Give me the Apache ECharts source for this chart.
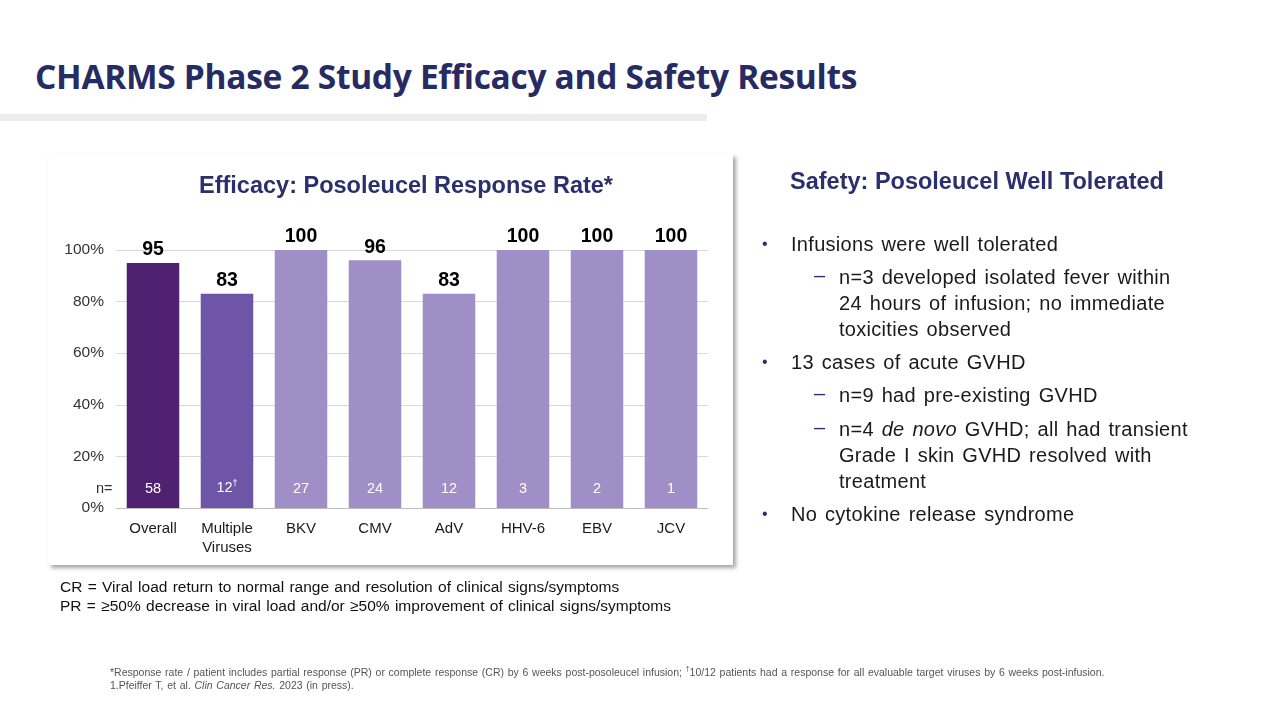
<!DOCTYPE html>
<html>
<head>
<meta charset="utf-8">
<script src="https://cdn.jsdelivr.net/npm/echarts@6/dist/echarts.min.js"></script>
<style>
  html, body { margin:0; padding:0; background:#fff; }
  body { width:1280px; height:720px; position:relative; overflow:hidden; font-family:"Liberation Sans", Arial, sans-serif; }
  #title { position:absolute; left:35px; top:53px; font-family:"Open Sans", sans-serif; font-weight:700; font-size:33.5px; color:#272b63; white-space:nowrap; letter-spacing:-0.3px; }
  #rule { position:absolute; left:0; top:114px; width:707px; height:7px; background:#ececec; }
  #card { position:absolute; left:48px; top:154px; width:685px; height:411px; background:#fff; box-shadow:3px 3px 4px rgba(0,0,0,0.35); }
  #chart { position:absolute; left:0; top:0; width:1280px; height:720px; }
  #safetyTitle { position:absolute; left:790px; top:168px; font-weight:700; font-size:23.5px; color:#2b2f6b; white-space:nowrap; }
  .b { position:absolute; font-size:20px; color:#1a1a1a; white-space:nowrap; line-height:26px; letter-spacing:0.3px; word-spacing:2px; }
  .dot { position:absolute; font-size:16px; color:#2b2f6b; }
  .dash { position:absolute; font-size:20px; color:#2b2f6b; }
  .defs { position:absolute; left:60px; font-size:15.5px; color:#111; white-space:nowrap; word-spacing:1px; }
  .fn { position:absolute; left:110px; font-size:10.5px; color:#555; white-space:nowrap; word-spacing:0.8px; }
</style>
</head>
<body>
<div id="title">CHARMS Phase 2 Study Efficacy and Safety Results</div>
<div id="rule"></div>
<div id="card"></div>
<div id="chart"></div>

<div id="safetyTitle">Safety: Posoleucel Well Tolerated</div>
<div class="dot" style="left:762px;top:235px;">•</div>
<div class="b" style="left:791px;top:231px;">Infusions were well tolerated</div>
<div class="dash" style="left:814px;top:264px;">–</div>
<div class="b" style="left:839px;top:264px;">n=3 developed isolated fever within<br>24 hours of infusion; no immediate<br>toxicities observed</div>
<div class="dot" style="left:762px;top:353px;">•</div>
<div class="b" style="left:791px;top:349px;">13 cases of acute GVHD</div>
<div class="dash" style="left:814px;top:382px;">–</div>
<div class="b" style="left:839px;top:382px;">n=9 had pre-existing GVHD</div>
<div class="dash" style="left:814px;top:416px;">–</div>
<div class="b" style="left:839px;top:416px;">n=4 <i>de novo</i> GVHD; all had transient<br>Grade I skin GVHD resolved with<br>treatment</div>
<div class="dot" style="left:762px;top:505px;">•</div>
<div class="b" style="left:791px;top:501px;">No cytokine release syndrome</div>

<div class="defs" style="top:578px;">CR = Viral load return to normal range and resolution of clinical signs/symptoms</div>
<div class="defs" style="top:597px;">PR = ≥50% decrease in viral load and/or ≥50% improvement of clinical signs/symptoms</div>

<div class="fn" style="top:665px;">*Response rate / patient includes partial response (PR) or complete response (CR) by 6 weeks post-posoleucel infusion; <sup style="font-size:7px">†</sup>10/12 patients had a response for all evaluable target viruses by 6 weeks post-infusion.</div>
<div class="fn" style="top:679px;">1.Pfeiffer T, et al. <i>Clin Cancer Res.</i> 2023 (in press).</div>

<script>
const categories = ['Overall', 'Multiple\nViruses', 'BKV', 'CMV', 'AdV', 'HHV-6', 'EBV', 'JCV'];
const responseRates = [95, 83, 100, 96, 83, 100, 100, 100];
const nLabels = ['58', '12{sup|†}', '27', '24', '12', '3', '2', '1'];
const barColors = ['#4f2170', '#6f55a8', '#a08fc6', '#a08fc6', '#a08fc6', '#a08fc6', '#a08fc6', '#a08fc6'];
const yTicks = [0, 20, 40, 60, 80, 100];

const chart = echarts.init(document.getElementById('chart'), null, { renderer: 'canvas' });
const font = '"Liberation Sans", Arial, sans-serif';

chart.setOption({
  animation: false,
  backgroundColor: 'transparent',
  title: {
    text: 'Efficacy: Posoleucel Response Rate*',
    left: 401, top: 170, textAlign: 'center',
    textStyle: { fontFamily: font, fontWeight: 'bold', fontSize: 23.5, color: '#2b2f6b' }
  },
  grid: { left: 116, right: 572, top: 250, bottom: 212, containLabel: false },
  xAxis: {
    type: 'category',
    data: categories,
    axisLine: { show: true, lineStyle: { color: '#bfbfbf', width: 1 } },
    axisTick: { show: false },
    axisLabel: { fontFamily: font, fontSize: 15, color: '#1a1a1a', margin: 11, lineHeight: 19, interval: 0 }
  },
  yAxis: {
    type: 'value',
    min: yTicks[0], max: yTicks[yTicks.length - 1], interval: 20,
    axisLine: { show: false },
    axisTick: { show: false },
    splitLine: { lineStyle: { color: '#d9d9d9', width: 1 } },
    axisLabel: { fontFamily: font, fontSize: 15.5, color: '#333', margin: 12, formatter: '{value}%' }
  },
  graphic: [
    { type: 'text', left: 96, top: 481, style: { text: 'n=', fontFamily: font, fontSize: 14.5, fill: '#333' } }
  ],
  series: [
    {
      type: 'bar',
      data: responseRates.map((v, i) => ({ value: v, itemStyle: { color: barColors[i] } })),
      barWidth: '71%',
      label: {
        show: true, position: 'insideBottom', distance: 12,
        fontFamily: font, fontSize: 14.5, color: '#ffffff',
        formatter: p => nLabels[p.dataIndex],
        rich: { sup: { fontSize: 9, color: '#ffffff', verticalAlign: 'top', padding: [0, 0, 8, 0] } }
      },
      z: 2
    },
    {
      type: 'bar',
      data: responseRates,
      barWidth: '71%',
      barGap: '-100%',
      itemStyle: { color: 'rgba(0,0,0,0)' },
      label: {
        show: true, position: 'top', distance: 3,
        fontFamily: font, fontSize: 19.5, fontWeight: 'bold', color: '#000'
      },
      z: 3
    }
  ]
});
</script>
</body>
</html>
